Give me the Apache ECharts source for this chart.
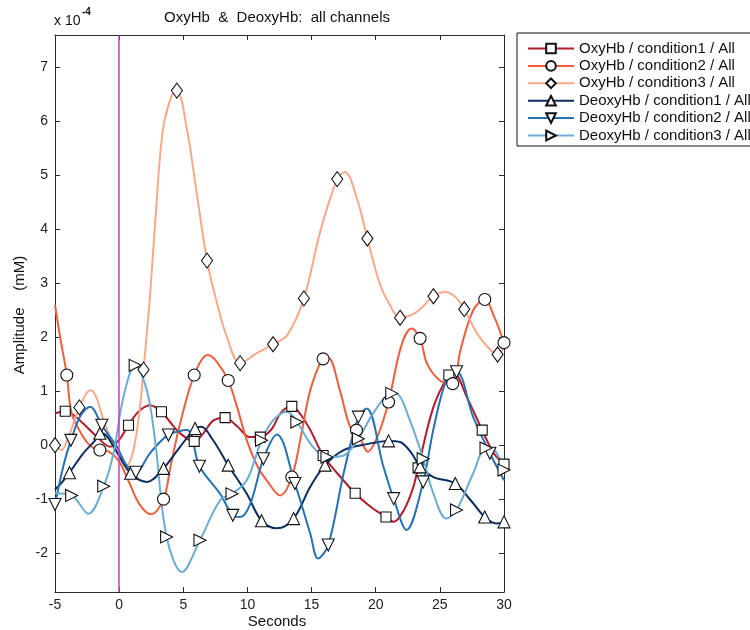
<!DOCTYPE html>
<html><head><meta charset="utf-8">
<script src="https://cdn.jsdelivr.net/npm/echarts@6/dist/echarts.min.js"></script>
<style>html,body{margin:0;padding:0;background:#fff}#c{width:750px;height:630px}</style>
</head><body><div id="c"></div>
<script>
// ---- data (time in seconds, amplitude in 1e-4 mM) ----
const xTicks = [-5, 0, 5, 10, 15, 20, 25, 30];
const yTicks = [-2, -1, 0, 1, 2, 3, 4, 5, 6, 7];
const seriesNames = ['OxyHb / condition1 / All','OxyHb / condition2 / All','OxyHb / condition3 / All',
  'DeoxyHb / condition1 / All','DeoxyHb / condition2 / All','DeoxyHb / condition3 / All'];

const oxy1T = [-5,-3.5,-2.8,-1.7,-0.7,0,1.5,2.4,4.0,4.75,6.5,7.35,9.2,10.2,11.9,12.6,14.2,14.9,17.0,19.6,21.4,22.2,22.9,24.5,26.1,27.1,29.2];
const oxy1V = [0.59,0.55,0.4,0.15,-0.03,0.1,0.62,0.74,0.42,0.22,0.2,0.46,0.35,0.15,0.3,0.6,0.55,0.28,-0.52,-1.14,-1.42,-1.2,-0.8,0.71,1.33,0.89,-0.15];
const oxy1MkT = [-4.2,0.73,3.3,5.85,8.26,11.0,13.46,15.9,18.4,20.8,23.3,25.7,28.3,30.0];
const oxy1MkV = [0.63,0.37,0.62,0.07,0.51,0.15,0.72,-0.19,-0.89,-1.33,-0.42,1.30,0.28,-0.35];

const oxy2T = [-5,-4.6,-3.7,-2.8,-2.2,-0.8,0,0.8,1.6,2.5,4.0,4.75,6.9,7.6,9.2,9.95,10.8,11.5,12.55,14.2,14.9,16.3,17.2,18.0,19.4,20.2,22.0,22.8,24.0,25.0,26.6,27.6,29.2];
const oxy2V = [2.6,2.0,0.59,0.15,-0.02,-0.12,-0.3,-0.7,-1.1,-1.28,-0.4,0.4,1.67,1.55,0.7,0.09,-0.4,-0.65,-0.93,0.2,1.02,1.62,1.02,0.34,-0.12,0.2,1.85,2.16,1.51,1.2,1.76,2.5,2.4];
const oxy2MkT = [-4.08,-1.5,3.46,5.85,8.5,13.46,15.9,18.5,21.0,23.46,26.0,28.5,30.0];
const oxy2MkV = [1.30,-0.09,-1.0,1.30,1.2,-0.59,1.6,0.28,0.80,1.98,1.14,2.70,1.9];

const oxy3T = [-4.5,-4,-3.5,-2.5,-2.2,-1.8,-1.2,-0.6,0,0.6,1.1,1.55,2.4,2.8,3.4,4.1,5.3,6.05,7.5,8.4,10.7,13.1,15.7,17.6,18.5,20.3,21.1,23.2,25.4,26.2,27.9,28.8,30.0];
const oxy3V = [-0.09,0.12,0.45,0.98,1.02,0.9,0.45,0.08,-0.18,-0.38,-0.1,0.55,2.75,4.1,5.83,6.48,5.83,4.66,2.75,2.0,1.70,2.04,3.98,5.06,4.6,3.0,2.6,2.47,2.84,2.75,2.07,1.8,1.82];
const oxy3MkT = [-5,-3.1,1.9,4.5,6.85,9.43,12.0,14.4,17.0,19.35,21.9,24.5,26.9,29.5];
const oxy3MkV = [0.0,0.7,1.4,6.57,3.42,1.52,1.87,2.72,4.93,3.83,2.36,2.76,2.52,1.68];

const deoxy1T = [-5,-4.5,-2.8,-1.87,-1.0,-0.2,2.16,4.75,6.4,7.3,9.95,12.3,14.9,17.5,19.3,21.9,22.8,24.5,27.4,29.4];
const deoxy1V = [-0.82,-0.7,-0.15,0.09,0.18,-0.12,-0.68,-0.03,0.34,0.1,-0.9,-1.54,-0.77,-0.09,0.02,0.06,-0.15,-0.59,-1.02,-1.45];
const deoxy1MkT = [-3.87,-1.5,0.9,3.46,5.92,8.5,11.1,13.6,16.05,21.0,23.46,26.2,28.5,30.0];
const deoxy1MkV = [-0.51,0.22,-0.52,-0.43,0.31,-0.37,-1.4,-1.36,-0.37,0.08,-0.4,-0.71,-1.33,-1.42];

const deoxy2T = [-4.3,-3.0,-2.26,-0.18,0.6,2.4,5.3,7.87,9.43,10.2,12.3,14.9,15.5,17.5,19.3,20.6,22.4,24.5,25.5,27.6,30.0];
const deoxy2V = [-0.34,0.55,0.71,-0.03,-0.38,-0.15,0.28,-0.9,-1.33,-1.1,0.2,-1.64,-2.10,-0.52,0.68,-0.4,-1.57,0.3,1.2,0.52,-0.65];
const deoxy2MkT = [-5,-3.76,-1.35,1.3,3.84,6.26,8.86,11.25,13.7,16.3,18.65,21.4,23.7,26.3,28.9];
const deoxy2MkV = [-1.1,0.09,0.37,-0.5,0.19,-0.39,-1.30,-0.25,-0.71,-1.85,0.52,-0.99,-0.68,1.36,-0.15];

const deoxy3T = [-5,-2.4,-0.44,0.34,2.16,2.8,4.9,7.87,9.95,12.0,13.1,15.1,17.5,19.8,21.7,22.6,24.5,25.5,27.6,29.3];
const deoxy3V = [-0.89,-1.27,-0.15,0.9,1.02,0.09,-2.35,-1.02,-0.65,0.46,0.62,-0.03,-0.19,0.59,0.95,0.5,-0.9,-1.36,-0.52,-0.1];
const deoxy3MkT = [-3.7,-1.2,1.25,3.7,6.3,8.8,11.1,13.85,16.2,18.65,21.25,23.7,26.3,28.6,30.0];
const deoxy3MkV = [-0.93,-0.76,1.48,-1.70,-1.76,-0.9,0.09,0.43,-0.22,0.12,0.96,-0.25,-1.2,-0.05,-0.46];

// ---- styles ----
const styles = [
  {color:'#b21c2c', symbol:'rect', size:10, rot:0},
  {color:'#ef5f3e', symbol:'circle', size:12, rot:0},
  {color:'#f8a98c', symbol:'diamond', size:[11,15], rot:0},
  {color:'#0b2d60', symbol:'triangle', size:12, rot:0},
  {color:'#2571b4', symbol:'triangle', size:12, rot:180},
  {color:'#6badd5', symbol:'triangle', size:12, rot:-90}
];
const curves = [[oxy1T,oxy1V,oxy1MkT,oxy1MkV],[oxy2T,oxy2V,oxy2MkT,oxy2MkV],[oxy3T,oxy3V,oxy3MkT,oxy3MkV],
  [deoxy1T,deoxy1V,deoxy1MkT,deoxy1MkV],[deoxy2T,deoxy2V,deoxy2MkT,deoxy2MkV],[deoxy3T,deoxy3V,deoxy3MkT,deoxy3MkV]];

function buildData(T, V, MT, MV) {
  const pts = [];
  T.forEach((t, i) => pts.push({value:[t, V[i]], symbol:'none'}));
  MT.forEach((t, i) => pts.push({value:[t, MV[i]]}));
  pts.sort((a, b) => a.value[0] - b.value[0]);
  return pts;
}

const FONT = 'Liberation Sans, Arial, sans-serif';
const series = curves.map((c, i) => {
  const st = styles[i];
  const s = {
    name: seriesNames[i], type:'line', smooth:0.35, data: buildData(c[0], c[1], c[2], c[3]),
    symbol: st.symbol, symbolSize: st.size, symbolRotate: st.rot, showSymbol:true, showAllSymbol:true,
    lineStyle:{color: st.color, width:2}, itemStyle:{color:'#fff', borderColor:'#111', borderWidth:1.1},
    emphasis:{disabled:true}, z: 3
  };
  if (i === 0) {
    s.markLine = {silent:true, symbol:['none','none'], label:{show:false}, animation:false,
      lineStyle:{color:'#c43ec8', width:1.5, type:'solid'}, data:[{xAxis:0}]};
  }
  return s;
});

const axisCommon = {
  axisLine:{onZero:false, lineStyle:{color:'#2a2a2a', width:1}},
  splitLine:{show:false}
};

const chart = echarts.init(document.getElementById('c'), null, {renderer:'canvas'});
chart.setOption({
  animation:false,
  backgroundColor:'#fff',
  textStyle:{fontFamily:FONT},
  grid:{left:55, top:35, width:449, height:557, containLabel:false},
  legend:{
    orient:'vertical', left:517, top:33, data: seriesNames,
    itemWidth:46, itemHeight:12, itemGap:2.4,
    padding:[8,14,3,10], borderColor:'#111', borderWidth:1, backgroundColor:'#fff',
    textStyle:{fontSize:15, color:'#111', fontFamily:FONT},
    selectedMode:false
  },
  xAxis:[
    Object.assign({type:'value', min:xTicks[0], max:xTicks[xTicks.length-1], interval:5, position:'bottom',
      axisTick:{inside:true, length:5, lineStyle:{color:'#2a2a2a'}},
      axisLabel:{fontSize:14, color:'#222', margin:6, fontFamily:FONT}}, axisCommon),
    Object.assign({type:'value', min:xTicks[0], max:xTicks[xTicks.length-1], interval:5, position:'top',
      axisTick:{inside:true, length:5, lineStyle:{color:'#2a2a2a'}}, axisLabel:{show:false}}, axisCommon)
  ],
  yAxis:[
    Object.assign({type:'value', min:-2.72, max:7.6, position:'left',
      axisTick:{inside:true, length:5, customValues:yTicks, lineStyle:{color:'#2a2a2a'}},
      axisLabel:{fontSize:14, color:'#222', margin:7, customValues:yTicks, fontFamily:FONT}}, axisCommon),
    Object.assign({type:'value', min:-2.72, max:7.6, position:'right',
      axisTick:{inside:true, length:5, customValues:yTicks, lineStyle:{color:'#2a2a2a'}},
      axisLabel:{show:false}}, axisCommon)
  ],
  graphic:[
    {type:'text', x:277, y:18, style:{text:'OxyHb  &  DeoxyHb:  all channels', fill:'#111', font:'15px '+FONT, textAlign:'center', textVerticalAlign:'middle'}},
    {type:'text', x:54, y:21, style:{text:'x 10', fill:'#111', font:'14px '+FONT, textAlign:'left', textVerticalAlign:'middle'}},
    {type:'text', x:82, y:12, style:{text:'-4', fill:'#111', font:'bold 10px '+FONT, textAlign:'left', textVerticalAlign:'middle'}},
    {type:'text', x:277, y:622, style:{text:'Seconds', fill:'#111', font:'15px '+FONT, textAlign:'center', textVerticalAlign:'middle'}},
    {type:'text', x:20, y:315, rotation:Math.PI/2, style:{text:'Amplitude    (mM)', fill:'#111', font:'15px '+FONT, textAlign:'center', textVerticalAlign:'middle'}}
  ],
  series: series
});
</script></body></html>
